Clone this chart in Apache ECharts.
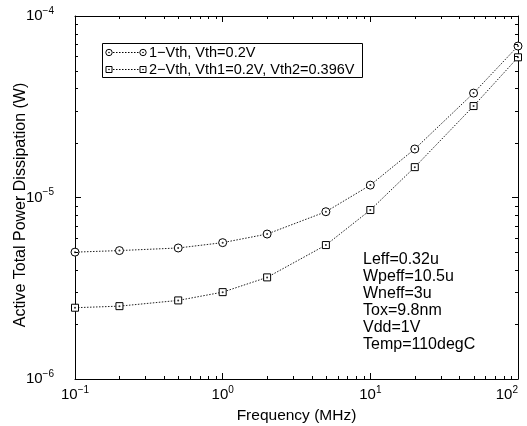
<!DOCTYPE html>
<html>
<head>
<meta charset="utf-8">
<script src="https://cdn.jsdelivr.net/npm/echarts@6/dist/echarts.min.js"></script>
<style>
  html, body { margin: 0; padding: 0; background: #fff; }
  #chart { width: 527px; height: 426px; }
</style>
</head>
<body>
<div id="chart"></div>
<script>
// frequency points (MHz)
const freq = [0.1, 0.2, 0.5, 1, 2, 5, 10, 20, 50, 100];
// single Vth
const power1 = [5.0e-6, 5.1e-6, 5.27e-6, 5.64e-6, 6.29e-6, 8.35e-6, 1.17e-5, 1.85e-5, 3.76e-5, 6.83e-5];
// dual Vth
const power2 = [2.47e-6, 2.52e-6, 2.71e-6, 3.01e-6, 3.63e-6, 5.47e-6, 8.53e-6, 1.47e-5, 3.19e-5, 5.92e-5];
const seriesNames = ['1\u2212Vth, Vth=0.2V', '2\u2212Vth, Vth1=0.2V, Vth2=0.396V'];
const notes = ['Leff=0.32u', 'Wpeff=10.5u', 'Wneff=3u', 'Tox=9.8nm', 'Vdd=1V', 'Temp=110degC'];

const FONT = 'Liberation Sans, Arial, sans-serif';
const DOTS = [1.5, 1.5];
const chart = echarts.init(document.getElementById('chart'));

const powLabel = {
    formatter: v => {
        const e = Math.round(Math.log10(v));
        return '{b|10}{e|' + (e < 0 ? '\u2212' + (-e) : e) + '}';
    },
    rich: {
        b: { fontSize: 15, fontFamily: FONT, color: '#000' },
        e: { fontSize: 10, fontFamily: FONT, color: '#000', padding: [0, 0, 10, 0] }
    }
};

const axisCommon = {
    type: 'log',
    logBase: 10,
    axisLine: { show: true, lineStyle: { color: '#000', width: 1 } },
    axisTick: { show: true, inside: true, length: 6, lineStyle: { color: '#000' } },
    splitLine: { show: false },
    minorTick: { show: false }
};

const lineSeries = (name, vals, symbol, size) => ({
    name: name, type: 'line',
    data: freq.map((f, i) => [f, vals[i]]),
    symbol: symbol, symbolSize: size,
    lineStyle: { color: '#222', width: 1, type: DOTS },
    itemStyle: { color: '#fff', borderColor: '#000', borderWidth: 1 }
});
const dotSeries = vals => ({
    type: 'scatter', silent: true, z: 5,
    data: freq.map((f, i) => [f, vals[i]]),
    symbol: 'circle', symbolSize: 2,
    itemStyle: { color: '#000' }
});

chart.setOption({
    animation: false,
    backgroundColor: '#fff',
    grid: { left: 75, right: 9, top: 16, bottom: 47, containLabel: false, outerBoundsMode: 'none' },
    xAxis: [
        Object.assign({}, axisCommon, {
            min: 0.1, max: 100,
            name: 'Frequency (MHz)', nameLocation: 'middle', nameGap: 27,
            nameTextStyle: { fontSize: 15.5, fontFamily: FONT, color: '#000' },
            axisLabel: Object.assign({ margin: 6, alignMaxLabel: 'right' }, powLabel)
        }),
        Object.assign({}, axisCommon, {
            min: 0.1, max: 100, position: 'top', axisLabel: { show: false }
        })
    ],
    yAxis: [
        Object.assign({}, axisCommon, {
            min: 1e-6, max: 1e-4,
            axisLabel: Object.assign({ margin: 21 }, powLabel)
        }),
        Object.assign({}, axisCommon, {
            min: 1e-6, max: 1e-4, position: 'right', axisLabel: { show: false }
        })
    ],
    series: [
        lineSeries(seriesNames[0], power1, 'circle', 8),
        lineSeries(seriesNames[1], power2, 'rect', 7),
        dotSeries(power1),
        dotSeries(power2)
    ]
});

// legend box, minor log ticks, y title, parameter notes
const g = chart.getModel().getComponent('grid').coordinateSystem.getRect();
const els = [];
const seg = (x1, y1, x2, y2, dash) => els.push({
    type: 'line', silent: true, z: 10,
    shape: { x1: x1, y1: y1, x2: x2, y2: y2 },
    style: { stroke: '#000', lineWidth: 1, lineDash: dash || null }
});
[0.1, 1, 10].forEach(d => {
    for (let k = 2; k <= 9; k++) {
        const x = Math.round(chart.convertToPixel({ xAxisIndex: 0 }, d * k)) + 0.5;
        seg(x, g.y + g.height, x, g.y + g.height - 3);
        seg(x, g.y, x, g.y + 3);
    }
});
[1e-6, 1e-5].forEach(d => {
    for (let k = 2; k <= 9; k++) {
        const y = Math.round(chart.convertToPixel({ yAxisIndex: 0 }, d * k)) + 0.5;
        seg(g.x, y, g.x + 3, y);
        seg(g.x + g.width, y, g.x + g.width - 3, y);
    }
});

els.push({ type: 'rect', z: 9, silent: true,
    shape: { x: 102.5, y: 43.5, width: 260, height: 34 },
    style: { fill: '#fff', stroke: '#000', lineWidth: 1 } });
const rows = [52.5, 69.5];
rows.forEach((y, i) => {
    seg(113, y, 139, y, DOTS);
    [109, 143].forEach(cx => {
        if (i === 0) {
            els.push({ type: 'circle', z: 11, silent: true, shape: { cx: cx, cy: y, r: 3.2 },
                style: { fill: '#fff', stroke: '#000', lineWidth: 1 } });
        } else {
            els.push({ type: 'rect', z: 11, silent: true, shape: { x: cx - 3, y: y - 3, width: 6, height: 6 },
                style: { fill: '#fff', stroke: '#000', lineWidth: 1 } });
        }
        els.push({ type: 'circle', z: 12, silent: true, shape: { cx: cx, cy: y, r: 0.8 }, style: { fill: '#000' } });
    });
    els.push({ type: 'text', z: 11, silent: true, x: 149, y: y,
        style: { text: seriesNames[i], fontSize: 14.5, fontFamily: FONT, fill: '#000', verticalAlign: 'middle' } });
});

els.push({ type: 'text', silent: true, x: 21, y: 205, rotation: Math.PI / 2,
    style: { text: 'Active Total Power Dissipation (W)', fontSize: 16, fontFamily: FONT, fill: '#000',
        align: 'center', verticalAlign: 'middle' } });

els.push({ type: 'text', silent: true, x: 363, y: 251.5,
    style: { text: notes.join('\n'), fontSize: 16, lineHeight: 17, fontFamily: FONT, fill: '#000' } });

chart.setOption({ graphic: els });
</script>
</body>
</html>
